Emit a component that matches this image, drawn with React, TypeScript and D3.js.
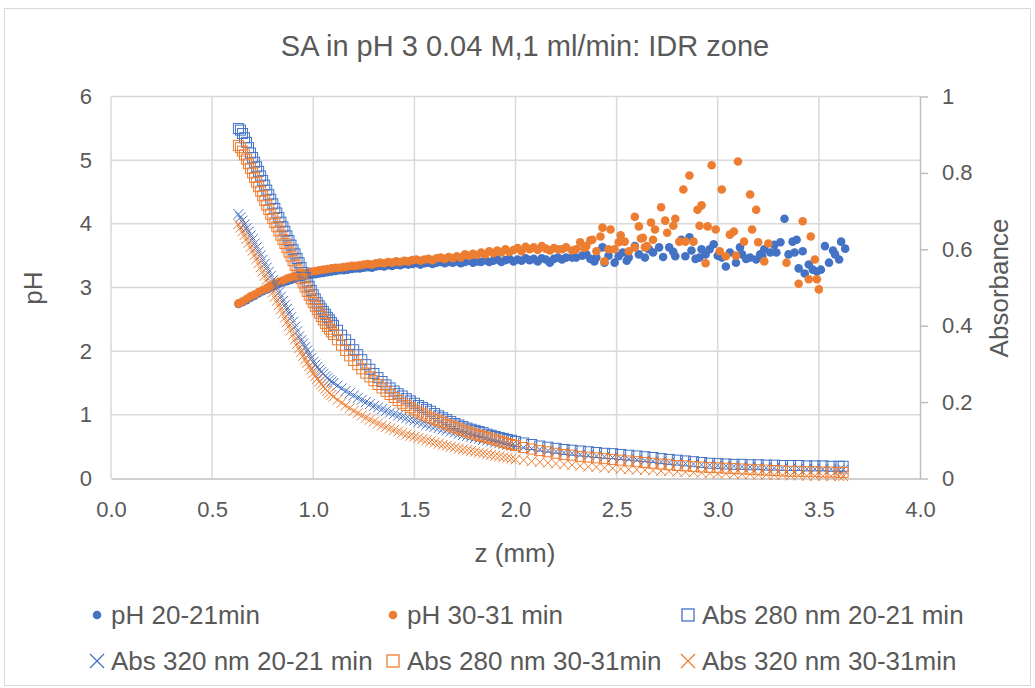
import * as d3 from 'd3';
import React, { useRef, useEffect } from 'react';

const width = 1035;
const height = 688;

const blue = '#4472C4';
const orange = '#ED7D31';
const textColor = '#595959';
const gridColor = '#D9D9D9';
const axisColor = '#BFBFBF';
const font = '"Liberation Sans", Arial, sans-serif';

// z (mm) where the absorbance was read (same grid for the four Abs series)
const zAbs = [
    0.63, 0.64, 0.65, 0.66, 0.67, 0.68, 0.69, 0.7, 0.71, 0.72, 0.73, 0.74, 0.75, 0.76, 0.77, 0.78,
    0.79, 0.8, 0.81, 0.82, 0.83, 0.84, 0.85, 0.86, 0.87, 0.88, 0.89, 0.9, 0.91, 0.92, 0.93, 0.94,
    0.95, 0.96, 0.97, 0.98, 0.99, 1, 1.01, 1.02, 1.03, 1.04, 1.05, 1.06, 1.07, 1.08, 1.09, 1.1,
    1.12, 1.14, 1.16, 1.18, 1.2, 1.22, 1.24, 1.26, 1.28, 1.3, 1.32, 1.34, 1.36, 1.38, 1.4, 1.42,
    1.44, 1.46, 1.48, 1.5, 1.52, 1.54, 1.56, 1.58, 1.6, 1.62, 1.64, 1.66, 1.68, 1.7, 1.72, 1.74,
    1.76, 1.78, 1.8, 1.82, 1.84, 1.86, 1.88, 1.9, 1.92, 1.94, 1.96, 1.98, 2,
    2.04, 2.08, 2.12, 2.16, 2.2, 2.24, 2.28, 2.32, 2.36, 2.4, 2.44, 2.48, 2.52, 2.56, 2.6, 2.64,
    2.68, 2.72, 2.76, 2.8, 2.84, 2.88, 2.92, 2.96, 3, 3.04, 3.08, 3.12, 3.16, 3.2, 3.24, 3.28,
    3.32, 3.36, 3.4, 3.44, 3.48, 3.52, 3.56, 3.6, 3.62,
];

const abs280_20 = [
    0.916, 0.912, 0.903, 0.892, 0.88, 0.866, 0.852, 0.84, 0.828, 0.816, 0.804, 0.792, 0.78, 0.768, 0.755, 0.743,
    0.731, 0.719, 0.707, 0.695, 0.683, 0.671, 0.659, 0.647, 0.635, 0.623, 0.611, 0.599, 0.588, 0.576, 0.565, 0.552,
    0.539, 0.526, 0.514, 0.503, 0.492, 0.481, 0.47, 0.46, 0.452, 0.444, 0.437, 0.43, 0.422, 0.415, 0.408, 0.401,
    0.388, 0.375, 0.363, 0.351, 0.337, 0.324, 0.311, 0.298, 0.286, 0.275, 0.264, 0.254, 0.245, 0.237, 0.229, 0.222,
    0.216, 0.209, 0.203, 0.197, 0.191, 0.186, 0.181, 0.176, 0.17, 0.164, 0.159, 0.154, 0.149, 0.144, 0.14, 0.136,
    0.132, 0.129, 0.126, 0.123, 0.12, 0.116, 0.113, 0.11, 0.107, 0.105, 0.102, 0.1, 0.097,
    0.093, 0.089, 0.085, 0.082, 0.079, 0.076, 0.074, 0.072, 0.07, 0.068, 0.066, 0.065, 0.063, 0.061, 0.059, 0.057,
    0.055, 0.052, 0.05, 0.048, 0.046, 0.044, 0.042, 0.04, 0.039, 0.038, 0.037, 0.037, 0.036, 0.036, 0.035, 0.035,
    0.034, 0.034, 0.034, 0.033, 0.033, 0.033, 0.032, 0.032, 0.032,
];

const abs320_20 = [
    0.692, 0.684, 0.675, 0.665, 0.655, 0.646, 0.636, 0.626, 0.615, 0.605, 0.594, 0.584, 0.573, 0.562, 0.552, 0.541,
    0.53, 0.519, 0.508, 0.498, 0.487, 0.476, 0.465, 0.454, 0.444, 0.433, 0.422, 0.41, 0.397, 0.385, 0.372, 0.362,
    0.353, 0.344, 0.335, 0.325, 0.315, 0.305, 0.298, 0.292, 0.285, 0.279, 0.274, 0.268, 0.263, 0.258, 0.254, 0.25,
    0.243, 0.236, 0.229, 0.223, 0.217, 0.211, 0.206, 0.2, 0.195, 0.19, 0.186, 0.181, 0.177, 0.173, 0.169, 0.165,
    0.162, 0.158, 0.155, 0.152, 0.148, 0.145, 0.141, 0.138, 0.135, 0.132, 0.129, 0.126, 0.123, 0.12, 0.117, 0.114,
    0.111, 0.109, 0.106, 0.104, 0.101, 0.099, 0.097, 0.094, 0.092, 0.09, 0.088, 0.086, 0.084,
    0.081, 0.078, 0.076, 0.073, 0.071, 0.068, 0.066, 0.063, 0.061, 0.059, 0.057, 0.055, 0.053, 0.051, 0.049, 0.047,
    0.045, 0.044, 0.042, 0.041, 0.039, 0.038, 0.036, 0.035, 0.034, 0.033, 0.032, 0.031, 0.03, 0.029, 0.028, 0.028,
    0.027, 0.026, 0.026, 0.025, 0.025, 0.024, 0.024, 0.023, 0.023,
];

const abs280_30 = [
    0.872, 0.866, 0.857, 0.847, 0.836, 0.824, 0.812, 0.8, 0.788, 0.776, 0.764, 0.752, 0.74, 0.728, 0.716, 0.704,
    0.692, 0.681, 0.67, 0.659, 0.648, 0.637, 0.626, 0.615, 0.604, 0.593, 0.582, 0.57, 0.558, 0.546, 0.535, 0.523,
    0.512, 0.501, 0.49, 0.48, 0.47, 0.461, 0.451, 0.442, 0.433, 0.424, 0.415, 0.406, 0.398, 0.391, 0.384, 0.377,
    0.363, 0.349, 0.335, 0.321, 0.309, 0.298, 0.287, 0.276, 0.266, 0.256, 0.246, 0.237, 0.228, 0.22, 0.212, 0.204,
    0.197, 0.191, 0.185, 0.179, 0.174, 0.169, 0.164, 0.159, 0.155, 0.151, 0.147, 0.142, 0.138, 0.134, 0.13, 0.126,
    0.122, 0.119, 0.116, 0.113, 0.11, 0.107, 0.104, 0.101, 0.098, 0.095, 0.092, 0.089, 0.086,
    0.081, 0.077, 0.073, 0.07, 0.066, 0.063, 0.061, 0.058, 0.056, 0.054, 0.052, 0.05, 0.048, 0.046, 0.044, 0.042,
    0.04, 0.038, 0.036, 0.034, 0.033, 0.031, 0.03, 0.029, 0.028, 0.027, 0.026, 0.025, 0.024, 0.023, 0.022, 0.021,
    0.02, 0.019, 0.019, 0.018, 0.018, 0.017, 0.017, 0.016, 0.016,
];

const abs320_30 = [
    0.666, 0.657, 0.647, 0.637, 0.627, 0.617, 0.606, 0.596, 0.585, 0.575, 0.564, 0.553, 0.542, 0.531, 0.52, 0.509,
    0.498, 0.487, 0.476, 0.465, 0.454, 0.443, 0.432, 0.421, 0.41, 0.399, 0.388, 0.376, 0.364, 0.352, 0.341, 0.331,
    0.321, 0.312, 0.303, 0.294, 0.285, 0.276, 0.268, 0.261, 0.254, 0.247, 0.241, 0.235, 0.229, 0.224, 0.219, 0.214,
    0.206, 0.198, 0.191, 0.184, 0.177, 0.171, 0.165, 0.159, 0.154, 0.149, 0.144, 0.139, 0.135, 0.131, 0.127, 0.123,
    0.119, 0.115, 0.112, 0.109, 0.106, 0.103, 0.1, 0.097, 0.094, 0.091, 0.088, 0.086, 0.083, 0.081, 0.078, 0.076,
    0.074, 0.072, 0.07, 0.068, 0.066, 0.064, 0.062, 0.06, 0.058, 0.056, 0.054, 0.052, 0.05,
    0.048, 0.045, 0.043, 0.041, 0.039, 0.037, 0.035, 0.033, 0.031, 0.03, 0.028, 0.027, 0.025, 0.024, 0.023, 0.022,
    0.021, 0.02, 0.019, 0.018, 0.017, 0.016, 0.015, 0.014, 0.013, 0.013, 0.012, 0.011, 0.011, 0.01, 0.01, 0.009,
    0.009, 0.008, 0.008, 0.007, 0.007, 0.007, 0.006, 0.006, 0.006,
];

// pH readings: dense run near the surface, same z grid for both runs
const zPh = [
    0.63, 0.65, 0.67, 0.69, 0.71, 0.73, 0.75, 0.77, 0.79, 0.81, 0.83, 0.85, 0.87, 0.89, 0.91, 0.93,
    0.95, 0.97, 0.99, 1.01, 1.03, 1.05, 1.07, 1.09, 1.11, 1.13, 1.15, 1.17, 1.19, 1.21, 1.23, 1.25,
    1.27, 1.29, 1.31, 1.33, 1.35, 1.37, 1.39, 1.41, 1.43, 1.45, 1.47, 1.49, 1.51, 1.53, 1.55, 1.57,
    1.59, 1.61, 1.63, 1.65, 1.67, 1.69, 1.71, 1.73, 1.75, 1.77, 1.79, 1.81, 1.83, 1.85, 1.87, 1.89,
    1.91, 1.93, 1.95, 1.97, 1.99, 2.01, 2.03, 2.05, 2.07, 2.09, 2.11, 2.13, 2.15, 2.17, 2.19, 2.21,
];

const ph20 = [
    2.74, 2.77, 2.8, 2.84, 2.87, 2.91, 2.94, 2.97, 3.0, 3.03, 3.06, 3.08, 3.1, 3.12, 3.14, 3.16,
    3.17, 3.19, 3.2, 3.21, 3.22, 3.23, 3.24, 3.25, 3.26, 3.27, 3.27, 3.28, 3.29, 3.3, 3.3, 3.31,
    3.32, 3.31, 3.33, 3.34, 3.33, 3.35, 3.34, 3.36, 3.35, 3.37, 3.36, 3.37, 3.38, 3.36, 3.38, 3.39,
    3.37, 3.39, 3.4, 3.38, 3.4, 3.39, 3.41, 3.38, 3.4, 3.42, 3.39, 3.41, 3.4, 3.43, 3.4, 3.42,
    3.44, 3.4, 3.43, 3.45, 3.41, 3.44, 3.42, 3.46, 3.43, 3.45, 3.41, 3.46, 3.44, 3.39, 3.45, 3.47,
];

const ph30 = [
    2.75, 2.78, 2.82, 2.86, 2.89, 2.93, 2.96, 2.99, 3.03, 3.06, 3.09, 3.11, 3.14, 3.16, 3.18, 3.2,
    3.22, 3.23, 3.25, 3.26, 3.27, 3.28, 3.29, 3.3, 3.31, 3.31, 3.32, 3.33, 3.34, 3.34, 3.35, 3.36,
    3.37, 3.36, 3.38, 3.39, 3.38, 3.4, 3.39, 3.41, 3.4, 3.42, 3.41, 3.43, 3.44, 3.42, 3.44, 3.45,
    3.43, 3.46, 3.47, 3.45, 3.48, 3.46, 3.49, 3.47, 3.52, 3.5, 3.53, 3.51, 3.55, 3.52, 3.57, 3.54,
    3.58, 3.55, 3.6, 3.56, 3.59, 3.62, 3.57, 3.64, 3.6, 3.63, 3.59, 3.65, 3.61, 3.58, 3.62, 3.6,
];

// scattered far end of the pH runs, [z, pH]
const ph20Tail = [
    [2.23, 3.44], [2.25, 3.47], [2.28, 3.47], [2.3, 3.47], [2.33, 3.5], [2.35, 3.52], [2.37, 3.45], [2.39, 3.41],
    [2.4, 3.47], [2.43, 3.63], [2.44, 3.39], [2.46, 3.5], [2.49, 3.39], [2.51, 3.49], [2.53, 3.55], [2.55, 3.42],
    [2.56, 3.47], [2.59, 3.65], [2.61, 3.52], [2.64, 3.47], [2.66, 3.6], [2.68, 3.55], [2.71, 3.63], [2.73, 3.48],
    [2.76, 3.63], [2.78, 3.56], [2.79, 3.49], [2.82, 3.75], [2.84, 3.49], [2.86, 3.79], [2.87, 3.58], [2.89, 3.45],
    [2.91, 3.47], [2.92, 3.6], [2.94, 3.52], [2.96, 3.6], [2.98, 3.68], [3.0, 3.5], [3.02, 3.47], [3.04, 3.33],
    [3.06, 3.55], [3.09, 3.39], [3.11, 3.63], [3.12, 3.52], [3.14, 3.45], [3.16, 3.47], [3.19, 3.44], [3.21, 3.52],
    [3.22, 3.49], [3.23, 3.6], [3.26, 3.55], [3.28, 3.67], [3.29, 3.55], [3.31, 3.71], [3.33, 4.08], [3.35, 3.52],
    [3.37, 3.72], [3.38, 3.55], [3.39, 3.75], [3.4, 3.3], [3.42, 3.57], [3.43, 3.22], [3.45, 3.36], [3.47, 3.28],
    [3.49, 3.25], [3.51, 3.28], [3.53, 3.65], [3.55, 3.39], [3.57, 3.58], [3.58, 3.52], [3.6, 3.44], [3.61, 3.72],
    [3.63, 3.61],
];

const ph30Tail = [
    [2.23, 3.6], [2.25, 3.63], [2.28, 3.58], [2.3, 3.6], [2.32, 3.71], [2.34, 3.62], [2.35, 3.65], [2.37, 3.74],
    [2.38, 3.75], [2.4, 3.57], [2.42, 3.8], [2.43, 3.94], [2.44, 3.41], [2.46, 3.6], [2.47, 3.91], [2.49, 3.6],
    [2.51, 3.71], [2.52, 3.82], [2.54, 3.72], [2.56, 3.57], [2.59, 3.63], [2.59, 4.11], [2.61, 3.96], [2.62, 3.77],
    [2.63, 3.78], [2.64, 3.63], [2.65, 3.65], [2.67, 4.02], [2.68, 3.75], [2.69, 3.91], [2.72, 4.26], [2.74, 4.05],
    [2.75, 3.86], [2.78, 3.97], [2.79, 4.08], [2.81, 3.72], [2.83, 4.54], [2.84, 3.72], [2.86, 4.76], [2.88, 3.72],
    [2.9, 4.22], [2.91, 3.97], [2.92, 4.29], [2.94, 3.38], [2.95, 3.96], [2.97, 4.92], [2.99, 3.91], [3.01, 3.57],
    [3.02, 4.54], [3.04, 3.49], [3.06, 3.83], [3.08, 3.88], [3.09, 3.5], [3.1, 4.98], [3.13, 3.72], [3.16, 4.46],
    [3.17, 3.91], [3.19, 4.22], [3.2, 3.71], [3.23, 3.41], [3.25, 3.69], [3.34, 3.39], [3.4, 3.06], [3.42, 4.04],
    [3.45, 3.13], [3.46, 3.8], [3.48, 3.44], [3.49, 3.13], [3.5, 2.97],
];

const xTicks = [0, 0.5, 1, 1.5, 2, 2.5, 3, 3.5, 4];
const phTicks = [0, 1, 2, 3, 4, 5, 6];
const absTicks = [0, 0.2, 0.4, 0.6, 0.8, 1];

const legendLabels = [
    'pH 20-21min', 'pH 30-31 min', 'Abs 280 nm 20-21 min',
    'Abs 320 nm 20-21 min', 'Abs 280 nm 30-31min', 'Abs 320 nm 30-31min',
];

function ScatterChart() {
    const ref = useRef<SVGSVGElement>(null);

    useEffect(() => {
        draw();
    }, []);

    const xPath = (cx: number, cy: number, h: number) =>
        `M${cx - h},${cy - h}L${cx + h},${cy + h}M${cx - h},${cy + h}L${cx + h},${cy - h}`;

    const draw = () => {
        const svg = d3.select(ref.current);
        svg.selectAll('*').remove();

        const x = d3.scaleLinear().domain([0, 4]).range([111, 920]);
        const yPh = d3.scaleLinear().domain([0, 6]).range([478.5, 96.5]);
        const yAbs = d3.scaleLinear().domain([0, 1]).range([478.5, 96.5]);

        svg.append('rect')
            .attr('x', 4.5).attr('y', 8.5)
            .attr('width', 1026).attr('height', 677)
            .attr('fill', '#fff').attr('stroke', gridColor);

        svg.append('text')
            .attr('x', 525).attr('y', 56)
            .attr('text-anchor', 'middle')
            .attr('fill', textColor)
            .style('font-size', '29px')
            .text('SA in pH 3 0.04 M,1 ml/min: IDR zone');

        // grid
        svg.append('g').selectAll('line')
            .data(phTicks.filter(d => d > 0))
            .enter().append('line')
            .attr('x1', x(0)).attr('x2', x(4))
            .attr('y1', d => yPh(d)).attr('y2', d => yPh(d))
            .attr('stroke', gridColor).attr('stroke-width', 1.5);

        svg.append('g').selectAll('line')
            .data(xTicks.filter(d => d < 4))
            .enter().append('line')
            .attr('x1', d => x(d)).attr('x2', d => x(d))
            .attr('y1', yPh(0)).attr('y2', yPh(6))
            .attr('stroke', gridColor).attr('stroke-width', 1.5);

        // axes
        const gx = svg.append('g')
            .attr('transform', `translate(0, ${yPh(0)})`)
            .call(d3.axisBottom(x).tickValues(xTicks).tickFormat(d3.format('.1f')).tickSize(0).tickSizeOuter(0));
        gx.select('.domain').attr('stroke', axisColor).attr('stroke-width', 1.5);
        gx.selectAll('text').attr('y', 31).attr('dy', '0.35em');

        const gl = svg.append('g')
            .attr('transform', `translate(${x(0)}, 0)`)
            .call(d3.axisLeft(yPh).tickValues(phTicks).tickFormat(d3.format('d')).tickSize(0).tickPadding(19));
        gl.select('.domain').remove();

        const gr = svg.append('g')
            .attr('transform', `translate(${x(4)}, 0)`)
            .call(d3.axisRight(yAbs).tickValues(absTicks).tickFormat(d3.format('')).tickSize(8).tickSizeOuter(0).tickPadding(14));
        gr.select('.domain').attr('stroke', axisColor).attr('stroke-width', 1.5);
        gr.selectAll('line').attr('stroke', axisColor).attr('stroke-width', 1.5);

        [gx, gl, gr].forEach(g => {
            g.attr('font-family', font).attr('font-size', 22);
            g.selectAll('text').attr('fill', textColor);
        });

        // axis titles
        svg.append('text')
            .attr('x', 515).attr('y', 562)
            .attr('text-anchor', 'middle').attr('fill', textColor)
            .style('font-size', '26px')
            .text('z (mm)');
        svg.append('text')
            .attr('transform', 'translate(33, 288) rotate(-90)')
            .attr('text-anchor', 'middle').attr('dy', '0.35em').attr('fill', textColor)
            .style('font-size', '26px')
            .text('pH');
        svg.append('text')
            .attr('transform', 'translate(999, 288) rotate(-90)')
            .attr('text-anchor', 'middle').attr('dy', '0.35em').attr('fill', textColor)
            .style('font-size', '26px')
            .text('Absorbance');

        // pH dots
        const phSeries = [
            { pts: zPh.map((z, i) => [z, ph20[i]]).concat(ph20Tail), color: blue },
            { pts: zPh.map((z, i) => [z, ph30[i]]).concat(ph30Tail), color: orange },
        ];
        phSeries.forEach(s => {
            svg.append('g').selectAll('circle')
                .data(s.pts.filter(d => d[1] !== undefined))
                .enter().append('circle')
                .attr('cx', d => x(d[0]))
                .attr('cy', d => yPh(d[1]))
                .attr('r', 4.3)
                .attr('fill', s.color);
        });

        // absorbance markers
        const absSeries = [
            { values: abs280_20, color: blue, shape: 'square' },
            { values: abs320_20, color: blue, shape: 'x' },
            { values: abs280_30, color: orange, shape: 'square' },
            { values: abs320_30, color: orange, shape: 'x' },
        ];
        absSeries.forEach(s => {
            const pts = zAbs.map((z, i) => [z, s.values[i]]).filter(d => d[1] !== undefined);
            const g = svg.append('g');
            if (s.shape === 'square') {
                g.selectAll('rect').data(pts).enter().append('rect')
                    .attr('x', d => x(d[0]) - 5)
                    .attr('y', d => yAbs(d[1]) - 5)
                    .attr('width', 10).attr('height', 10)
                    .attr('fill', 'none')
                    .attr('stroke', s.color).attr('stroke-width', 1);
            } else {
                g.selectAll('path').data(pts).enter().append('path')
                    .attr('d', d => xPath(x(d[0]), yAbs(d[1]), 5))
                    .attr('fill', 'none')
                    .attr('stroke', s.color).attr('stroke-width', 1);
            }
        });

        // legend
        const legendCols = [97, 393, 688];
        const legendRows = [615, 661];
        const legendKinds = [
            { color: blue, shape: 'dot' }, { color: orange, shape: 'dot' }, { color: blue, shape: 'square' },
            { color: blue, shape: 'x' }, { color: orange, shape: 'square' }, { color: orange, shape: 'x' },
        ];
        const lg = svg.append('g');
        legendLabels.forEach((label, i) => {
            const cx = legendCols[i % 3];
            const cy = legendRows[Math.floor(i / 3)];
            const k = legendKinds[i];
            if (k.shape === 'dot') {
                lg.append('circle').attr('cx', cx).attr('cy', cy).attr('r', 4.3).attr('fill', k.color);
            } else if (k.shape === 'square') {
                lg.append('rect').attr('x', cx - 6).attr('y', cy - 6).attr('width', 12).attr('height', 12)
                    .attr('fill', 'none').attr('stroke', k.color).attr('stroke-width', 1.3);
            } else {
                lg.append('path').attr('d', xPath(cx, cy, 7)).attr('fill', 'none')
                    .attr('stroke', k.color).attr('stroke-width', 1.3);
            }
            lg.append('text')
                .attr('x', cx + 14).attr('y', cy + 9)
                .attr('fill', textColor)
                .style('font-size', '26px')
                .text(label);
        });
    };

    return (
        <svg ref={ref} width={width} height={height}
            style={{ position: 'absolute', left: 0, top: 0, fontFamily: font, background: '#fff' }}>
        </svg>
    );
}

export default function App() {
    return <ScatterChart />;
}
